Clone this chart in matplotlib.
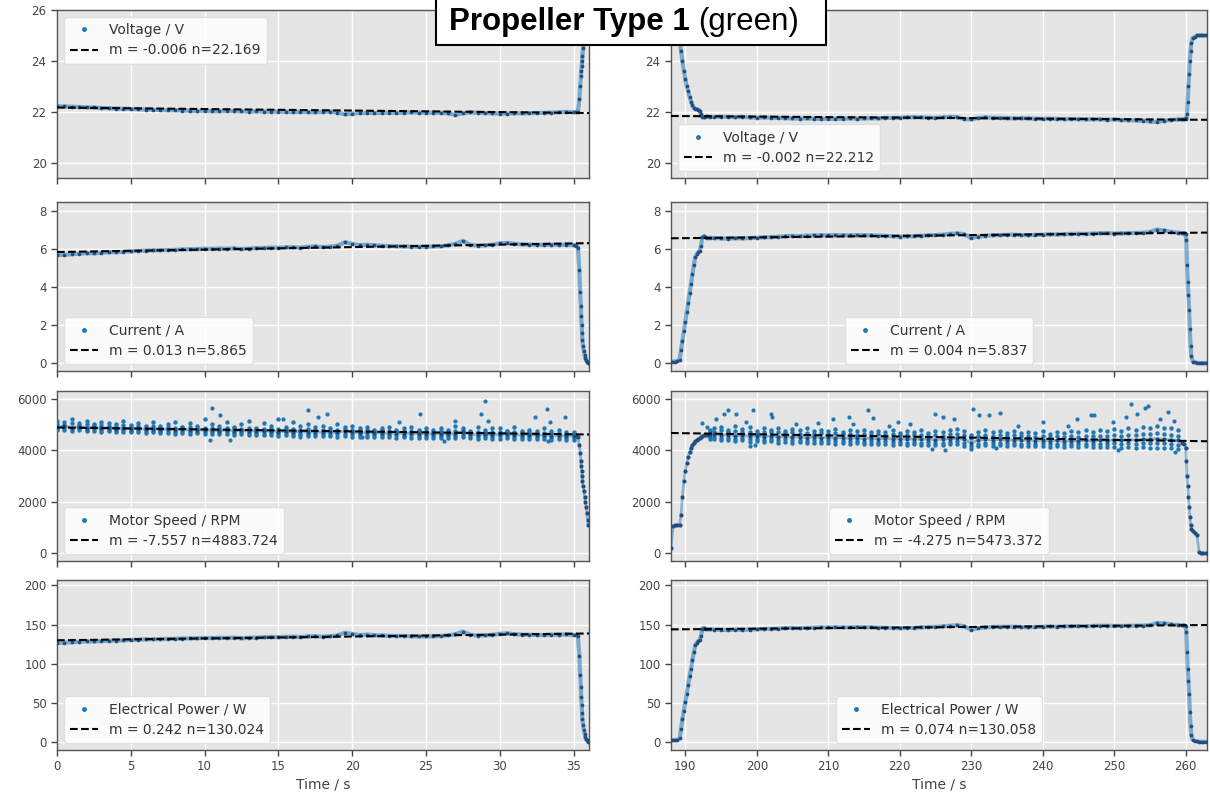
import matplotlib
matplotlib.use("Agg")
import matplotlib.pyplot as plt
from matplotlib.lines import Line2D
from matplotlib.patches import Rectangle

# ---------------- data: left run (time / s) ----------------
t_left = [0.0, 0.5, 1.0, 1.5, 2.0, 2.5, 3.0, 3.5, 4.0, 4.5, 5.0, 5.5, 6.0, 6.5, 7.0, 7.5,
          8.0, 8.5, 9.0, 9.5, 10.0, 10.5, 11.0, 11.5, 12.0, 12.5, 13.0, 13.5, 14.0, 14.5,
          15.0, 15.5, 16.0, 16.5, 17.0, 17.5, 18.0, 18.5, 19.0, 19.5, 20.0, 20.5, 21.0,
          21.5, 22.0, 22.5, 23.0, 23.5, 24.0, 24.5, 25.0, 25.5, 26.0, 26.5, 27.0, 27.5,
          28.0, 28.5, 29.0, 29.5, 30.0, 30.5, 31.0, 31.5, 32.0, 32.5, 33.0, 33.5, 34.0,
          34.5, 35.0, 35.2, 35.3, 35.4, 35.45, 35.5, 35.52, 35.55, 35.58, 35.6, 35.65,
          35.7, 35.75, 35.8, 35.85, 35.9, 35.95, 36.0]

volt_left = [22.22, 22.21, 22.20, 22.19, 22.18, 22.17, 22.15, 22.14, 22.13, 22.12,
             22.11, 22.10, 22.09, 22.08, 22.07, 22.06, 22.06, 22.05, 22.04, 22.03,
             22.04, 22.03, 22.02, 22.04, 22.03, 22.02, 22.01, 22.02, 22.01, 22.00,
             22.01, 22.00, 21.99, 22.00, 21.99, 21.98, 22.00, 22.01, 21.97, 21.90,
             21.93, 21.95, 21.96, 21.95, 21.96, 21.97, 21.96, 21.97, 21.98, 21.97,
             21.96, 21.97, 21.96, 21.94, 21.88, 21.94, 21.98, 21.96, 21.95, 21.94,
             21.93, 21.93, 21.94, 21.94, 21.95, 21.95, 21.96, 21.97, 21.98, 22.00,
             21.98,
             22.00, 22.00, 22.50, 23.00, 23.40, 23.60, 23.80, 24.00, 24.20, 24.50,
             24.80, 25.10, 25.40, 25.70, 26.00, 26.30, 26.60]

curr_left = [5.70, 5.72, 5.75, 5.78, 5.80, 5.80, 5.82, 5.85, 5.86, 5.88,
             5.90, 5.92, 5.94, 5.95, 5.96, 5.97, 5.98, 6.00, 6.01, 6.02,
             6.04, 6.03, 6.05, 6.04, 6.06, 6.02, 6.05, 6.07, 6.08, 6.10,
             6.09, 6.11, 6.12, 6.10, 6.14, 6.16, 6.12, 6.15, 6.20, 6.38,
             6.30, 6.22, 6.25, 6.22, 6.20, 6.18, 6.17, 6.16, 6.15, 6.14,
             6.15, 6.16, 6.17, 6.22, 6.30, 6.45, 6.25, 6.20, 6.22, 6.25,
             6.32, 6.35, 6.30, 6.27, 6.26, 6.25, 6.24, 6.25, 6.24, 6.25,
             6.22,
             6.20, 6.10, 4.90, 3.75, 3.00, 2.50, 2.00, 1.60, 1.25, 0.90,
             0.65, 0.45, 0.30, 0.18, 0.10, 0.05, 0.02]

speed_left = [4900, 4950, 4880, 4920, 4870, 4900, 4850, 4880, 4840, 4860,
              4830, 4850, 4810, 4840, 4800, 4820, 4790, 4810, 4780, 4800,
              4770, 4790, 4760, 4780, 4750, 4770, 4740, 4760, 4730, 4750,
              4720, 4740, 4710, 4730, 4700, 4720, 4700, 4690, 4700, 4750,
              4720, 4680, 4690, 4670, 4680, 4660, 4670, 4650, 4660, 4640,
              4650, 4630, 4640, 4620, 4650, 4700, 4620, 4610, 4620, 4600,
              4620, 4640, 4600, 4590, 4600, 4580, 4590, 4570, 4580, 4560,
              4550,
              4550, 4500, 4200, 3900, 3600, 3400, 3200, 3000, 2800, 2600,
              2400, 2200, 2000, 1800, 1550, 1300, 1100]

speed_left_upper = [5150, 5100, 5200, 5050, 5150, 5000, 5100, 5050, 5000, 5120,
                    4980, 5050, 4950, 5080, 4950, 5000, 5100, 4900, 5050, 4950,
                    5200, 5000, 4950, 5100, 4900, 5000, 5150, 4850, 5050, 4950,
                    5200, 4900, 5100, 4950, 5000, 4900, 4950, 4850, 5000, 4900,
                    4950, 4850, 4900, 4800, 4850, 4900, 4800, 4850, 4900, 4800,
                    4850, 4800, 4850, 4800, 4950, 4850, 4750, 4900, 4800, 4850,
                    4850, 4750, 4900, 4750, 4800, 4750, 4850, 4750, 4800, 4700,
                    4700]

speed_left_mid_hi = [5020, 4990, 5050, 4980, 5000, 4970, 4990, 4960, 4950, 4970,
                     4920, 4960, 4910, 4930, 4890, 4920, 4880, 4900, 4890, 4870,
                     4880, 4860, 4870, 4850, 4860, 4840, 4850, 4830, 4840, 4820,
                     4830, 4810, 4820, 4800, 4810, 4790, 4800, 4780, 4790, 4830,
                     4800, 4770, 4780, 4760, 4770, 4750, 4760, 4740, 4750, 4730,
                     4740, 4720, 4730, 4710, 4740, 4780, 4710, 4700, 4710, 4690,
                     4710, 4730, 4690, 4680, 4690, 4670, 4680, 4660, 4670, 4650,
                     4640]

speed_left_mid_lo = [4830, 4860, 4810, 4850, 4800, 4820, 4780, 4800, 4770, 4790,
                     4760, 4770, 4740, 4760, 4730, 4750, 4720, 4730, 4710, 4720,
                     4700, 4710, 4690, 4700, 4680, 4690, 4670, 4680, 4650, 4670,
                     4640, 4660, 4630, 4650, 4620, 4640, 4620, 4610, 4620, 4650,
                     4630, 4600, 4610, 4590, 4600, 4580, 4590, 4570, 4580, 4560,
                     4570, 4550, 4560, 4540, 4560, 4600, 4540, 4530, 4540, 4520,
                     4540, 4550, 4520, 4510, 4520, 4500, 4510, 4490, 4500, 4480,
                     4470]

speed_left_lower = [4780, 4800, 4750, 4780, 4740, 4760, 4720, 4740, 4700, 4720,
                    4700, 4710, 4680, 4700, 4660, 4680, 4650, 4670, 4640, 4660,
                    4630, 4650, 4620, 4640, 4600, 4620, 4590, 4610, 4580, 4600,
                    4570, 4590, 4560, 4580, 4550, 4570, 4540, 4560, 4530, 4550,
                    4500, 4530, 4510, 4520, 4500, 4510, 4490, 4500, 4480, 4490,
                    4470, 4480, 4460, 4470, 4480, 4500, 4460, 4450, 4460, 4440,
                    4450, 4460, 4430, 4440, 4430, 4420, 4430, 4410, 4420, 4400,
                    4400]

speed_left_out_t = [10.4, 10.5, 11.05, 11.7, 15.3, 16.5, 17.0, 17.7, 18.3, 20.7, 23.2,
                    24.6, 26.2, 27.0, 28.7, 29.0, 29.2, 32.4, 33.2, 33.3, 33.4, 34.4]
speed_left_out_v = [4400, 5650, 5350, 4400, 5200, 4500, 5550, 5300, 5400, 4500, 5100,
                    5400, 4350, 5150, 5400, 5900, 5150, 5300, 5600, 4350, 5100, 5300]

pow_left = [126.5, 127.0, 127.5, 128.1, 128.6, 128.5, 128.9, 129.5, 129.7, 130.0,
            130.5, 130.8, 131.2, 131.4, 131.5, 131.7, 131.9, 132.3, 132.5, 132.6,
            133.1, 132.9, 133.2, 133.1, 133.5, 132.5, 133.1, 133.6, 133.8, 134.2,
            134.0, 134.4, 134.6, 134.2, 135.0, 135.3, 134.6, 135.3, 136.2, 139.7,
            138.2, 136.6, 137.3, 136.6, 136.2, 135.8, 135.5, 135.4, 135.2, 134.9,
            135.0, 135.3, 135.5, 136.4, 137.7, 141.2, 137.2, 136.0, 136.4, 136.9,
            138.3, 138.9, 137.8, 137.2, 137.1, 136.9, 136.8, 137.2, 137.1, 137.5,
            136.6,
            137.0, 135.0, 110.0, 86.0, 70.0, 58.0, 47.0, 37.0, 29.0, 22.0,
            16.0, 11.0, 7.0, 4.0, 2.5, 1.2, 0.5]

# ---------------- data: right run (time / s) ----------------
t_right = [188.0, 188.3, 188.6, 188.9, 189.2, 189.4, 189.6, 189.8, 190.0, 190.2, 190.4,
           190.6, 190.8, 191.0, 191.2, 191.4, 191.6, 191.8, 192.0, 192.2, 192.4, 192.6,
           192.8, 193.0,
           193.5, 194.0, 195.0, 196.0, 197.0, 198.0, 199.0, 200.0, 201.0, 202.0, 203.0,
           204.0, 205.0, 206.0, 207.0, 208.0, 209.0, 210.0, 211.0, 212.0, 213.0, 214.0,
           215.0, 216.0, 217.0, 218.0, 219.0, 220.0, 221.0, 222.0, 223.0, 224.0, 225.0,
           226.0, 227.0, 228.0, 229.0, 230.0, 231.0, 232.0, 233.0, 234.0, 235.0, 236.0,
           237.0, 238.0, 239.0, 240.0, 241.0, 242.0, 243.0, 244.0, 245.0, 246.0, 247.0,
           248.0, 249.0, 250.0, 251.0, 252.0, 253.0, 254.0, 255.0, 256.0, 257.0, 258.0,
           259.0,
           259.5, 259.8, 260.0, 260.1, 260.2, 260.3, 260.4, 260.5, 260.6, 260.7, 260.8,
           261.0, 261.3, 261.6, 261.9, 262.2, 262.5, 262.8]

volt_right = [25.0, 25.0, 25.0, 25.0, 24.7, 24.4, 24.0, 23.6, 23.3, 23.0, 22.8, 22.6,
              22.4, 22.25, 22.15, 22.12, 22.10, 22.08, 22.05, 21.90, 21.80, 21.78, 21.80,
              21.82,
              21.80, 21.80, 21.81, 21.80, 21.79, 21.80, 21.78, 21.77, 21.78, 21.77, 21.76,
              21.75, 21.74, 21.73, 21.74, 21.73, 21.72, 21.73, 21.72, 21.73, 21.74, 21.73,
              21.74, 21.75, 21.74, 21.76, 21.76, 21.77, 21.78, 21.79, 21.78, 21.77, 21.76,
              21.78, 21.80, 21.79, 21.72, 21.70, 21.76, 21.78, 21.77, 21.76, 21.75, 21.74,
              21.75, 21.74, 21.73, 21.72, 21.73, 21.72, 21.71, 21.72, 21.71, 21.70, 21.71,
              21.70, 21.69, 21.70, 21.68, 21.67, 21.66, 21.65, 21.62, 21.60, 21.65, 21.68,
              21.70,
              21.70, 21.70, 21.72, 21.75, 21.90, 22.40, 23.00, 23.50, 24.00, 24.40, 24.70,
              24.90, 24.95, 25.00, 25.00, 25.00, 25.00, 25.00]

curr_right = [0.10, 0.10, 0.10, 0.12, 0.20, 0.70, 1.20, 1.70, 2.20, 2.70, 3.20, 3.70,
              4.20, 4.70, 5.20, 5.60, 5.75, 5.85, 5.90, 6.20, 6.65, 6.70, 6.65, 6.60,
              6.62, 6.60, 6.58, 6.57, 6.60, 6.58, 6.60, 6.62, 6.64, 6.65, 6.67,
              6.70, 6.72, 6.70, 6.73, 6.74, 6.75, 6.74, 6.76, 6.75, 6.74, 6.76,
              6.75, 6.74, 6.73, 6.72, 6.70, 6.68, 6.69, 6.70, 6.72, 6.74, 6.76,
              6.78, 6.82, 6.85, 6.80, 6.60, 6.68, 6.72, 6.75, 6.76, 6.77, 6.78,
              6.76, 6.75, 6.77, 6.78, 6.80, 6.79, 6.81, 6.82, 6.83, 6.82, 6.84,
              6.85, 6.86, 6.84, 6.85, 6.86, 6.87, 6.88, 6.92, 7.05, 7.00, 6.92,
              6.88,
              6.85, 6.85, 6.80, 6.50, 5.20, 4.30, 3.60, 2.80, 1.80, 0.90, 0.40,
              0.10, 0.05, 0.03, 0.02, 0.02, 0.02, 0.02]

speed_right = [200, 1050, 1080, 1100, 1100, 1500, 2200, 2800, 3200, 3500, 3750, 3950,
               4100, 4200, 4300, 4350, 4400, 4450, 4480, 4520, 4550, 4580, 4600, 4600,
               4600, 4620, 4580, 4600, 4560, 4580, 4540, 4560, 4530, 4550, 4520,
               4540, 4500, 4520, 4490, 4510, 4480, 4500, 4470, 4490, 4460, 4480,
               4450, 4470, 4440, 4460, 4430, 4450, 4430, 4440, 4420, 4440, 4410,
               4430, 4450, 4460, 4420, 4300, 4380, 4420, 4400, 4420, 4390, 4410,
               4380, 4400, 4370, 4390, 4360, 4380, 4350, 4370, 4350, 4380, 4360,
               4390, 4370, 4400, 4380, 4410, 4400, 4420, 4430, 4450, 4420, 4400,
               4380,
               4300, 4250, 4100, 3600, 3000, 2600, 2200, 1800, 1400, 1100, 950,
               850, 800, 700, 50, 0, 0, 0]

speed_right_upper = [4800, 4850, 4900, 4780, 4950, 4820, 4900, 4760, 4850, 4800, 4880,
                     4750, 4820, 4780, 4850, 4730, 4800, 4760, 4820, 4700, 4780, 4750,
                     4800, 4700, 4760, 4720, 4800, 4680, 4750, 4700, 4780, 4680, 4740,
                     4700, 4800, 4820, 4750, 4600, 4720, 4780, 4700, 4760, 4680, 4740,
                     4660, 4720, 4680, 4750, 4650, 4720, 4680, 4760, 4700, 4780, 4720,
                     4800, 4740, 4820, 4760, 4850, 4800, 4900, 4850, 4950, 4880, 4850,
                     4800]

speed_right_mid_hi = [4760, 4700, 4780, 4720, 4740, 4700, 4720, 4680, 4720, 4690,
                      4700, 4660, 4690, 4650, 4680, 4640, 4670, 4630, 4660, 4620,
                      4650, 4610, 4640, 4600, 4630, 4600, 4620, 4590, 4610, 4580,
                      4610, 4570, 4600, 4560, 4620, 4640, 4580, 4480, 4560, 4600,
                      4560, 4590, 4550, 4580, 4540, 4570, 4530, 4560, 4520, 4550,
                      4520, 4550, 4530, 4560, 4540, 4570, 4550, 4590, 4570, 4600,
                      4590, 4620, 4640, 4660, 4620, 4600, 4560]

speed_right_mid_lo = [4500, 4520, 4470, 4480, 4440, 4470, 4420, 4450, 4410, 4430,
                      4400, 4420, 4380, 4400, 4370, 4390, 4360, 4380, 4350, 4370,
                      4340, 4360, 4330, 4350, 4320, 4340, 4310, 4330, 4300, 4320,
                      4300, 4310, 4290, 4300, 4320, 4340, 4280, 4180, 4260, 4300,
                      4280, 4300, 4270, 4290, 4260, 4280, 4250, 4270, 4240, 4260,
                      4230, 4250, 4230, 4250, 4240, 4260, 4240, 4270, 4250, 4270,
                      4260, 4270, 4280, 4290, 4270, 4250, 4220]

speed_right_lower = [4450, 4420, 4400, 4380, 4350, 4380, 4330, 4360, 4320, 4340, 4300,
                     4330, 4290, 4310, 4280, 4300, 4270, 4290, 4260, 4280, 4250, 4270,
                     4240, 4260, 4230, 4250, 4220, 4240, 4210, 4230, 4200, 4220, 4190,
                     4210, 4230, 4250, 4150, 4050, 4150, 4200, 4180, 4200, 4170, 4190,
                     4160, 4180, 4150, 4170, 4140, 4160, 4130, 4150, 4130, 4150, 4120,
                     4140, 4110, 4130, 4100, 4120, 4100, 4110, 4090, 4100, 4080, 4090,
                     4050]

speed_right_out_t = [192.3, 193.0, 194.3, 195.4, 196.0, 197.1, 198.5, 199.5, 199.8, 202.0,
                     202.2, 205.5, 208.5, 210.7, 212.9, 213.5, 215.6, 216.2, 218.5, 219.7,
                     221.5, 224.9, 226.0, 226.3, 227.6, 230.3, 231.1, 232.5, 234.1, 236.5,
                     240.1, 243.5, 244.8, 246.7, 247.2, 249.9, 251.6, 252.4, 253.2, 254.3,
                     254.8, 256.4, 257.5, 258.4, 199.0, 224.5, 233.5, 250.5, 258.5]
speed_right_out_v = [5050, 4900, 5200, 5400, 5550, 5400, 5100, 5550, 4200, 5400,
                     5300, 5000, 5050, 5200, 5300, 5000, 5550, 5250, 4950, 5100,
                     5000, 5400, 5300, 4000, 5200, 5600, 5350, 5350, 5450, 4950,
                     5100, 4950, 5200, 5350, 5350, 5100, 5300, 5800, 5400, 5650,
                     5700, 5200, 5500, 5150, 4150, 4050, 4100, 4000, 3950]

pow_right = [2.5, 2.5, 2.5, 3.0, 5.0, 17.0, 29.0, 40.0, 51.0, 62.0, 73.0, 84.0,
             94.0, 105.0, 115.0, 124.0, 127.0, 129.0, 130.0, 136.0, 145.0, 146.0, 145.0,
             144.0,
             144.3, 143.8, 143.4, 143.0, 143.7, 143.3, 143.6, 144.0, 144.4, 144.6, 145.0,
             145.6, 146.0, 145.5, 146.1, 146.3, 146.5, 146.4, 146.8, 146.6, 146.5, 146.9,
             146.7, 146.6, 146.3, 146.2, 145.8, 145.5, 145.8, 146.1, 146.6, 146.9, 147.2,
             147.8, 148.7, 149.3, 147.9, 143.6, 145.6, 146.6, 147.1, 147.2, 147.3, 147.4,
             147.0, 146.7, 147.1, 147.3, 147.7, 147.4, 147.8, 148.1, 148.2, 147.9, 148.4,
             148.6, 148.7, 148.4, 148.4, 148.6, 148.7, 148.8, 149.4, 152.0, 151.6, 150.2,
             149.4,
             149.0, 149.0, 148.0, 141.0, 115.0, 94.0, 78.0, 61.0, 39.0, 20.0, 9.0,
             3.0, 1.5, 1.0, 0.5, 0.5, 0.5, 0.5]

# linear fits shown in the legends
fit_m_left = [-0.006, 0.013, -7.557, 0.242]
fit_n_left = [22.169, 5.865, 4883.724, 130.024]
fit_m_right = [-0.002, 0.004, -4.275, 0.074]
fit_n_right = [22.212, 5.837, 5473.372, 130.058]

series_labels = ["Voltage / V", "Current / A", "Motor Speed / RPM", "Electrical Power / W"]
x_ticks_left = [0, 5, 10, 15, 20, 25, 30, 35]
x_ticks_right = [190, 200, 210, 220, 230, 240, 250, 260]
y_ticks_left = [[20, 22, 24, 26], [0, 2, 4, 6, 8], [0, 2000, 4000, 6000], [0, 50, 100, 150, 200]]
y_ticks_right = [[20, 22, 24], [0, 2, 4, 6, 8], [0, 2000, 4000, 6000], [0, 50, 100, 150, 200]]
title_main = "Propeller Type 1"
title_sub = "(green)"

# ---------------- layout ----------------
W, H = 1210, 797
fig = plt.figure(figsize=(W / 100, H / 100), dpi=100)
col_px = [(57, 589), (671, 1207)]
row_px = [(10, 178), (202, 371), (391, 561), (580, 750)]
xlims = [(0, 36.05), (188.0, 263.0)]
ylims = [(19.4, 26.0), (-0.4, 8.5), (-300, 6300), (-10, 207)]

BLUE = "#1f77b4"
DARK = "#1f4f80"
GRAY = "#444444"

cols = [
    dict(t=t_left, series=[volt_left, curr_left, speed_left, pow_left],
         bands=[speed_left_upper, speed_left_mid_hi, speed_left_mid_lo, speed_left_lower],
         band_start=0, out_t=speed_left_out_t, out_v=speed_left_out_v,
         m=fit_m_left, n=fit_n_left, xt=x_ticks_left, yt=y_ticks_left,
         locs=["upper left", "lower left", "lower left", "lower left"]),
    dict(t=t_right, series=[volt_right, curr_right, speed_right, pow_right],
         bands=[speed_right_upper, speed_right_mid_hi, speed_right_mid_lo, speed_right_lower],
         band_start=24, out_t=speed_right_out_t, out_v=speed_right_out_v,
         m=fit_m_right, n=fit_n_right, xt=x_ticks_right, yt=y_ticks_right,
         locs=["lower left", "lower center", "lower center", "lower center"]),
]

for c, col in enumerate(cols):
    x0, x1 = col_px[c]
    for r in range(4):
        y0, y1 = row_px[r]
        ax = fig.add_axes([x0 / W, 1 - y1 / H, (x1 - x0) / W, (y1 - y0) / H])
        ax.set_facecolor("#E5E5E5")
        ax.grid(True, color="white", lw=1.0)
        ax.set_axisbelow(True)
        for sp in ax.spines.values():
            sp.set_color("#555555")
            sp.set_linewidth(1.0)
        ax.tick_params(direction="out", length=4, width=1, colors=GRAY,
                       labelsize=8.5, labelcolor=GRAY)
        t = col["t"]
        vals = col["series"][r]
        if r == 2:
            bs = col["band_start"]
            for band in col["bands"]:
                ax.scatter(t[bs:bs + len(band)], band, s=10, color=BLUE, lw=0, zorder=3)
            ax.scatter(col["out_t"], col["out_v"], s=9, color=BLUE, lw=0, zorder=3)
            ax.plot(t, vals, color=BLUE, lw=2.0, alpha=0.45, zorder=2)
            ax.scatter(t, vals, s=9, color=DARK, lw=0, zorder=3)
        else:
            ax.plot(t, vals, color=BLUE, lw=3.0, alpha=0.55, zorder=2)
            ax.scatter(t, vals, s=7, color=DARK, lw=0, zorder=3)
        xl = xlims[c]
        m, n = col["m"][r], col["n"][r]
        ax.plot(list(xl), [m * xl[0] + n, m * xl[1] + n], "--", color="black",
                lw=1.5, zorder=4)
        ax.set_xlim(*xl)
        ax.set_ylim(*ylims[r])
        ax.set_yticks(col["yt"][r])
        ax.set_xticks(col["xt"])
        if r < 3:
            ax.set_xticklabels([])
        else:
            ax.set_xlabel("Time / s", fontsize=10, color=GRAY, labelpad=3)
        handles = [Line2D([], [], marker=".", ls="none", color=BLUE, ms=5),
                   Line2D([], [], ls="--", color="black", lw=1.5)]
        labels = [series_labels[r], f"m = {m:.3f} n={n:.3f}"]
        leg = ax.legend(handles, labels, loc=col["locs"][r], fontsize=10,
                        framealpha=0.85, facecolor="white", edgecolor="#dddddd",
                        handlelength=2.0, borderpad=0.45, labelspacing=0.45)
        for txt in leg.get_texts():
            txt.set_color("#333333")
        leg.set_zorder(10)

# ---------------- title box ----------------
bx0, bx1, by1 = 436, 826, 45
rect = Rectangle((bx0 / W, 1 - by1 / H), (bx1 - bx0) / W, by1 / H + 0.01,
                 transform=fig.transFigure, facecolor="white", edgecolor="black",
                 lw=1.5, zorder=20, clip_on=False)
fig.add_artist(rect)
t1 = fig.text(449 / W, 1 - 22 / H, title_main, fontsize=22.5, family="Liberation Sans",
              weight="bold", va="center", ha="left", color="black", zorder=21)
fig.canvas.draw()
bb = t1.get_window_extent()
fig.text((bb.x1 + 8) / W, 1 - 22 / H, title_sub, fontsize=22.5, family="Liberation Sans",
         va="center", ha="left", color="black", zorder=21)

fig.savefig("out.png", dpi=100)
